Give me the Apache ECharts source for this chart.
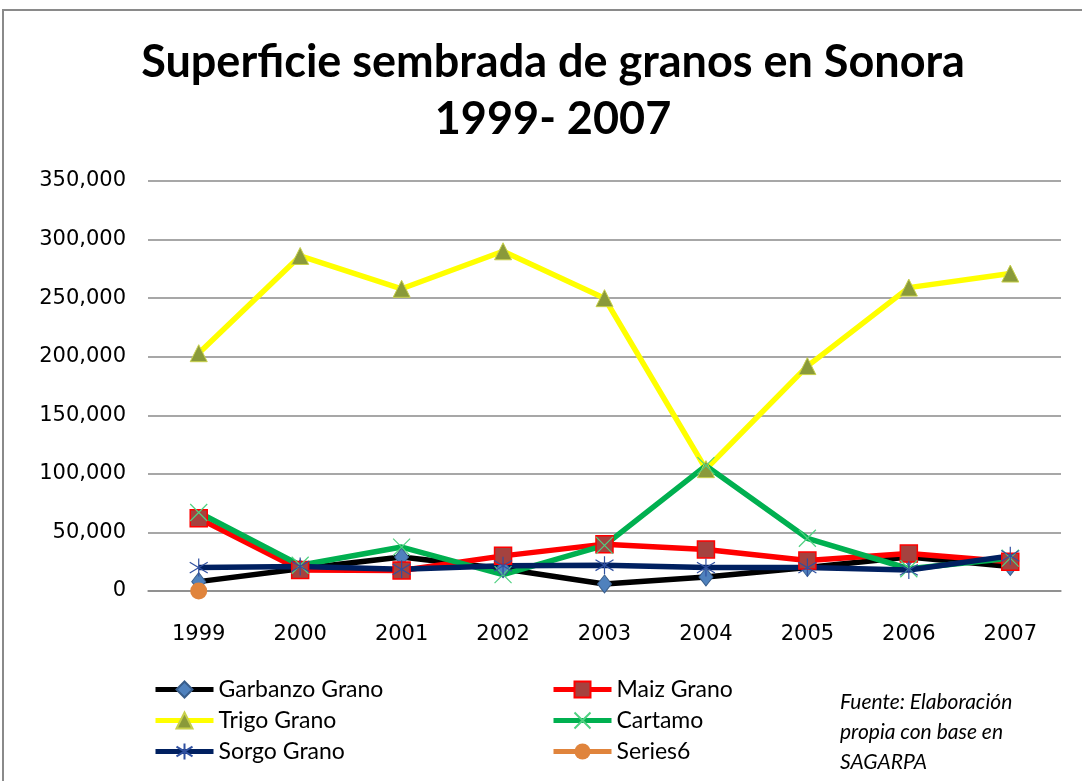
<!DOCTYPE html>
<html>
<head>
<meta charset="utf-8">
<script src="https://cdn.jsdelivr.net/npm/echarts@6/dist/echarts.min.js"></script>
<style>html,body{margin:0;padding:0;background:#fff}#c{width:1082px;height:781px}</style>
</head>
<body>
<div id="c"></div>
<script>
const years = ['1999','2000','2001','2002','2003','2004','2005','2006','2007'];
const garbanzo = [8000, 19000, 29000, 19000, 6000, 12000, 20000, 29000, 21000];
const maiz = [62000, 18000, 17500, 30000, 40000, 35500, 26000, 32000, 25000];
const trigo = [203000, 286000, 258000, 290000, 250000, 104000, 192000, 259000, 271000];
const cartamo = [67000, 22000, 37500, 14000, 39000, 107000, 45000, 19000, 28000];
const sorgo = [20000, 21000, 18500, 21500, 22000, 20000, 20000, 18000, 30000];
const series6 = [0, null, null, null, null, null, null, null, null];
const yTicks = { min: 0, max: 350000, interval: 50000 };

const xPath = 'path://M0,0L10,10M10,0L0,10';
const starPath = 'path://M5,0L5,10M0,2L10,8M0,8L10,2';

const chart = echarts.init(document.getElementById('c'), null, {renderer: 'canvas'});
const lw = 5.5;
const legText = { fontFamily: 'Lato', fontSize: 23, color: '#000' };
chart.setOption({
  animation: false,
  backgroundColor: '#fff',
  title: {
    text: 'Superficie sembrada de granos en Sonora\n1999- 2007',
    left: 548, top: 29, textAlign: 'center',
    textStyle: { fontFamily: 'Lato', fontWeight: 'bold', fontSize: 45, lineHeight: 57, color: '#000' }
  },
  graphic: [
    { type: 'rect', shape: { x: 3, y: 10, width: 1120, height: 800 }, style: { fill: 'none', stroke: '#8a8a8a', lineWidth: 2 }, silent: true },
    { type: 'text', left: 840, top: 687, style: { text: 'Fuente: Elaboración\npropia con base en\nSAGARPA', font: 'italic 21px Lato', lineHeight: 30, fill: '#000' } }
  ],
  grid: { left: 148, right: 21, top: 181, bottom: 190, containLabel: false },
  legend: [
    { data: ['Garbanzo Grano', 'Trigo Grano', 'Sorgo Grano'], orient: 'vertical', left: 148, top: 673,
      itemWidth: 58, itemHeight: 20, itemGap: 8, textStyle: legText, lineStyle: { width: 5 } },
    { data: ['Maiz Grano', 'Cartamo', 'Series6'], orient: 'vertical', left: 546, top: 673,
      itemWidth: 58, itemHeight: 20, itemGap: 8, textStyle: legText, lineStyle: { width: 5 } }
  ],
  xAxis: {
    type: 'category', data: years, boundaryGap: true,
    axisLine: { show: true, lineStyle: { color: '#8a8a8a', width: 1.5 } },
    axisTick: { show: false },
    axisLabel: { margin: 33, fontFamily: 'DejaVu Sans', fontSize: 21, color: '#000' }
  },
  yAxis: {
    type: 'value', min: yTicks.min, max: yTicks.max, interval: yTicks.interval,
    axisLine: { show: false }, axisTick: { show: false },
    splitLine: { lineStyle: { color: '#8a8a8a', width: 1.5 } },
    axisLabel: { margin: 22, fontFamily: 'DejaVu Sans', fontSize: 21, color: '#000',
      formatter: v => v.toLocaleString('en-US') }
  },
  series: [
    { name: 'Garbanzo Grano', type: 'line', data: garbanzo, symbol: 'diamond', symbolSize: [14, 18],
      lineStyle: { color: '#000', width: lw }, itemStyle: { color: '#4F81BD', borderColor: '#385D8A', borderWidth: 1 } },
    { name: 'Maiz Grano', type: 'line', data: maiz, symbol: 'rect', symbolSize: 17,
      lineStyle: { color: '#FF0000', width: lw }, itemStyle: { color: '#A5423F', borderColor: '#FF0000', borderWidth: 1.5 } },
    { name: 'Trigo Grano', type: 'line', data: trigo, symbol: 'triangle', symbolSize: 17,
      lineStyle: { color: '#FFFF00', width: lw }, itemStyle: { color: '#8A9A3A', borderColor: '#C8D04A', borderWidth: 1 } },
    { name: 'Cartamo', type: 'line', data: cartamo, symbol: xPath, symbolSize: 17,
      lineStyle: { color: '#00B050', width: lw }, itemStyle: { color: 'rgba(0,0,0,0)', borderColor: '#4FD080', borderWidth: 1.2 } },
    { name: 'Sorgo Grano', type: 'line', data: sorgo, symbol: starPath, symbolSize: 18,
      lineStyle: { color: '#002060', width: lw }, itemStyle: { color: 'rgba(0,0,0,0)', borderColor: '#3050A0', borderWidth: 1.2 } },
    { name: 'Series6', type: 'line', data: series6, symbol: 'circle', symbolSize: 17, showSymbol: true,
      lineStyle: { color: '#E0843C', width: lw }, itemStyle: { color: '#E0843C' } }
  ]
});
</script>
</body>
</html>
